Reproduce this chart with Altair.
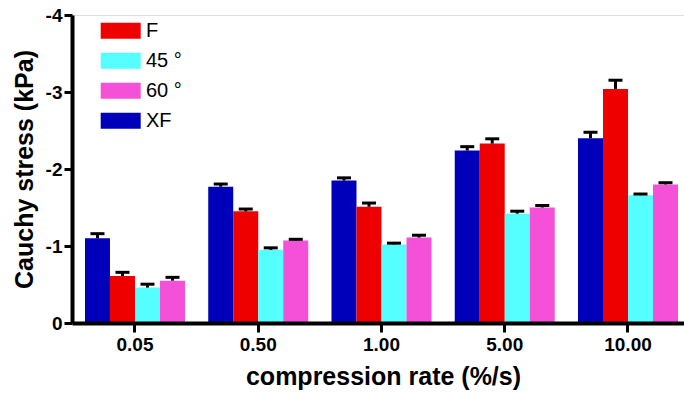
import altair as alt
import pandas as pd

# Compression rates (%/s) on the x axis
rates = ["0.05", "0.50", "1.00", "5.00", "10.00"]

# Mean Cauchy stress (kPa) for each specimen orientation
stress_xf = [-1.10, -1.77, -1.85, -2.24, -2.40]
stress_f = [-0.61, -1.45, -1.51, -2.33, -3.04]
stress_45 = [-0.46, -0.95, -1.02, -1.42, -1.66]
stress_60 = [-0.55, -1.07, -1.11, -1.50, -1.80]

# Standard error of the mean (kPa)
sem_xf = [0.060, 0.035, 0.035, 0.050, 0.077]
sem_f = [0.048, 0.030, 0.048, 0.062, 0.113]
sem_45 = [0.044, 0.026, 0.017, 0.032, 0.015]
sem_60 = [0.043, 0.017, 0.030, 0.026, 0.022]

series_names = ["XF", "F", "45 °", "60 °"]
legend_order = ["F", "45 °", "60 °", "XF"]
legend_colors = ["#EE0000", "#55FFFF", "#F550D8", "#0000BB"]

rows = []
for name, vals, errs in [
    ("XF", stress_xf, sem_xf),
    ("F", stress_f, sem_f),
    ("45 °", stress_45, sem_45),
    ("60 °", stress_60, sem_60),
]:
    for r, v, e in zip(rates, vals, errs):
        rows.append({"rate": r, "series": name, "stress": v, "top": v - e})
df = pd.DataFrame(rows)

FONT = "Liberation Sans"

x_enc = alt.X(
    "rate:N",
    sort=rates,
    title="compression rate (%/s)",
    scale=alt.Scale(paddingInner=0.1886, paddingOuter=0.077, align=0.684),
    axis=alt.Axis(
        zindex=1,
        labelAngle=0,
        labelFont=FONT,
        labelFontSize=19,
        labelFontWeight="bold",
        labelColor="black",
        labelPadding=3,
        ticks=True,
        tickBand="center",
        tickSize=9,
        tickWidth=3,
        tickColor="black",
        domainWidth=4,
        domainColor="black",
        titleFont=FONT,
        titleFontSize=25,
        titleFontWeight="bold",
        titleColor="black",
        titlePadding=10,
        titleX=311,
    ),
)
xoff = alt.XOffset(
    "series:N", sort=series_names, scale=alt.Scale(paddingInner=0, paddingOuter=0)
)
y_scale = alt.Scale(domain=[0, -4], nice=False)

bars = (
    alt.Chart(df)
    .mark_bar(opacity=1)
    .encode(
        x=x_enc,
        xOffset=xoff,
        y=alt.Y(
            "stress:Q",
            scale=y_scale,
            title="Cauchy stress (kPa)",
            axis=alt.Axis(
                zindex=1,
                values=[0, -1, -2, -3, -4],
                labelExpr="datum.value < 0 ? '-' + format(-datum.value, 'd') : '0'",
                labelFont=FONT,
                labelFontSize=19,
                labelFontWeight="bold",
                labelColor="black",
                labelPadding=2,
                tickSize=8,
                tickWidth=3,
                tickColor="black",
                domainWidth=4,
                domainColor="black",
                grid=False,
                titleFont=FONT,
                titleFontSize=25,
                titleFontWeight="bold",
                titleColor="black",
                titlePadding=8,
            ),
        ),
        color=alt.Color(
            "series:N",
            scale=alt.Scale(domain=legend_order, range=legend_colors),
            legend=alt.Legend(
                title=None,
                orient="none",
                legendX=38.7,
                legendY=5.7,
                symbolType="M-2,-0.8H2V0.8H-2Z",
                symbolSize=400,
                symbolStrokeWidth=0,
                labelFont=FONT,
                labelFontSize=20,
                labelColor="black",
                labelOffset=15.3,
                rowPadding=10,
                padding=0,
            ),
        ),
    )
)

stems = (
    alt.Chart(df)
    .mark_rule(color="black", strokeWidth=3)
    .encode(
        x=alt.X("rate:N", sort=rates),
        xOffset=xoff,
        y=alt.Y("stress:Q", scale=y_scale),
        y2="top:Q",
    )
)

caps = (
    alt.Chart(df)
    .mark_tick(color="black", thickness=3, size=14, orient="horizontal", opacity=1)
    .encode(
        x=alt.X("rate:N", sort=rates),
        xOffset=xoff,
        y=alt.Y("top:Q", scale=y_scale),
    )
)

chart = (
    alt.layer(bars, stems, caps)
    .properties(
        width=612,
        height=308,
        autosize=alt.AutoSizeParams(type="none"),
        padding={"left": 72, "top": 15, "right": 0, "bottom": 71},
    )
    .configure_view(stroke=None)
    .configure(background="white")
)

chart.save("out.html", embed_options={"renderer": "svg", "actions": False})
